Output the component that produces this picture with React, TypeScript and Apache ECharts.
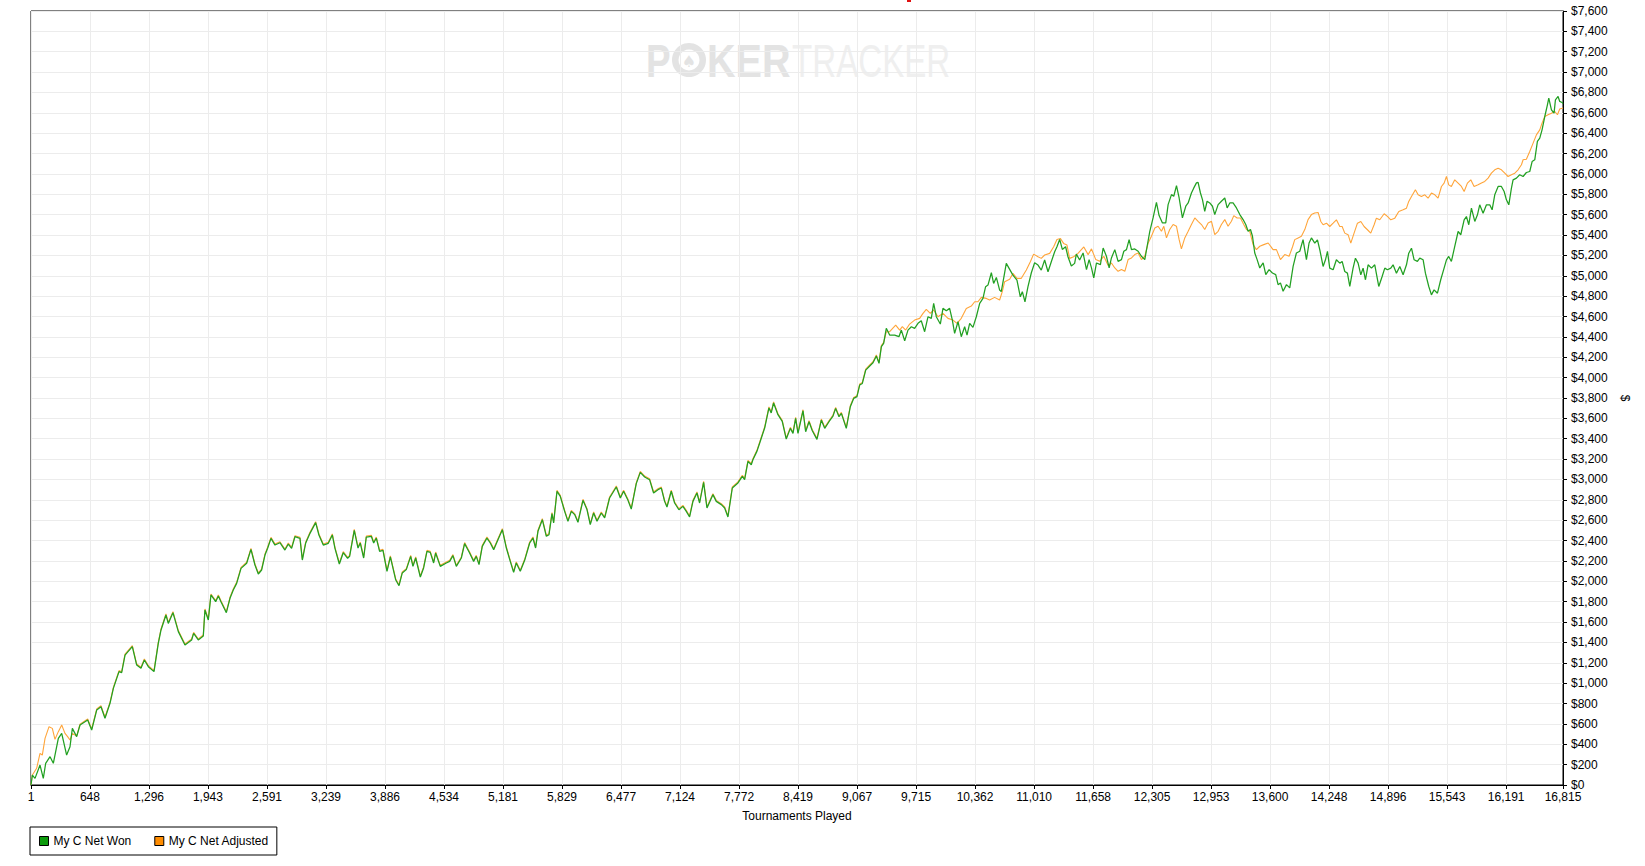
import React, { useEffect, useRef } from "react";
import * as echarts from "echarts";

const xTicks = [1, 648, 1296, 1943, 2591, 3239, 3886, 4534, 5181, 5829, 6477, 7124, 7772, 8419, 9067, 9715, 10362, 11010, 11658, 12305, 12953, 13600, 14248, 14896, 15543, 16191, 16815];

const seriesNames = ["My C Net Won", "My C Net Adjusted"];

const yMin = 0;
const yMax = 7600;
const yStep = 200;

const netWon: [number, number][] = [
  [1,0],[16,98],[45,65],[100,196],[136,65],[162,213],[210,278],[246,213],[301,458],[338,507],[392,294],[429,376],[455,556],[502,475],[539,589],[623,638],[667,540],[722,736],[769,769],[813,655],[868,802],[905,949],[967,1113],[996,1103],[1033,1276],[1113,1358],[1161,1178],[1208,1146],[1245,1227],[1289,1162],[1351,1113],[1398,1391],[1428,1522],[1482,1669],[1508,1587],[1559,1692],[1618,1506],[1691,1375],[1764,1424],[1786,1489],[1837,1424],[1892,1463],[1910,1718],[1947,1620],[1976,1866],[2028,1800],[2057,1856],[2086,1800],[2145,1692],[2185,1833],[2221,1915],[2258,1980],[2306,2127],[2368,2177],[2415,2314],[2459,2160],[2496,2072],[2532,2111],[2569,2258],[2598,2324],[2635,2422],[2679,2356],[2733,2379],[2788,2307],[2825,2366],[2861,2324],[2898,2438],[2953,2422],[2979,2209],[3015,2373],[3063,2471],[3125,2576],[3161,2455],[3209,2356],[3264,2373],[3308,2455],[3337,2324],[3385,2170],[3428,2281],[3476,2226],
  [3498,2245],[3549,2501],[3590,2327],[3615,2376],[3652,2229],[3681,2435],[3736,2442],[3762,2376],[3791,2425],[3827,2294],[3864,2304],[3908,2098],[3945,2239],[4003,2016],[4040,1957],[4076,2082],[4120,2115],[4168,2245],[4193,2147],[4223,2229],[4274,2042],[4310,2131],[4347,2294],[4383,2284],[4420,2180],[4442,2278],[4493,2147],[4559,2180],[4596,2196],[4632,2252],[4669,2147],[4724,2229],[4760,2370],[4815,2278],[4859,2196],[4888,2245],[4918,2164],[4954,2343],[5005,2425],[5042,2376],[5079,2311],[5126,2409],[5174,2507],[5218,2327],[5261,2196],[5298,2088],[5327,2180],[5371,2098],[5419,2206],[5474,2376],[5510,2425],[5539,2327],[5565,2491],[5613,2605],[5657,2442],[5686,2458],[5719,2664],[5737,2573],[5774,2884],[5810,2834],[5858,2687],[5894,2589],[5931,2687],[5968,2655],[6004,2579],[6059,2795],[6103,2704],[6139,2556],[6176,2671],[6213,2589],[6260,2671],[6297,2622],[6351,2818],[6425,2926],[6469,2818],[6505,2884],[6553,2795],[6589,2710],[6644,2959],[6688,3070],[6736,3024],[6790,2998],[6834,2867],[6882,2900],[6919,2916],[6955,2785],[6981,2730],[7028,2884],[7065,2769],[7112,2703],[7156,2736],[7193,2687],[7229,2632],[7266,2785],[7310,2867],[7339,2769],[7383,2972],[7420,2720],[7485,2851],[7522,2785],[7577,2753],[7614,2720],[7650,2632],[7698,2916],[7760,2966],[7808,3031],[7833,2998],[7870,3178],[7906,3145],[7924,3194],[7968,3276],[8005,3375],[8053,3505],[8100,3702],[8125,3653],[8151,3751],[8199,3636],[8246,3571],[8290,3397],
  [8335,3502],[8364,3453],[8393,3600],[8419,3453],[8474,3675],[8503,3469],[8540,3567],[8576,3479],[8627,3394],[8675,3583],[8712,3502],[8759,3567],[8803,3623],[8832,3698],[8869,3616],[8895,3649],[8949,3502],[8993,3714],[9030,3796],[9066,3813],[9096,3927],[9125,3943],[9162,4074],[9198,4107],[9242,4146],[9279,4212],[9308,4140],[9334,4304],[9359,4336],[9388,4484],[9425,4418],[9480,4418],[9527,4402],[9553,4467],[9590,4362],[9626,4467],[9663,4500],[9699,4484],[9736,4533],[9772,4559],[9809,4451],[9846,4598],[9882,4582],[9908,4729],[9937,4598],[9981,4526],[10010,4680],[10047,4657],[10083,4680],[10113,4565],[10138,4434],[10175,4549],[10211,4402],[10248,4500],[10274,4418],[10303,4533],[10339,4493],[10376,4598],[10413,4729],[10449,4778],[10478,4893],[10504,4909],[10541,5030],[10566,4925],[10596,4984],[10632,4860],[10650,4844],[10676,4975],[10705,5122],[10742,5063],[10778,5007],[10822,4958],[10859,4794],[10881,4844],[10910,4745],[10943,4893],[10980,5030],[11016,5128],[11053,5105],[11089,5056],[11126,5155],[11163,5040],[11199,5138],[11236,5236],[11261,5285],[11291,5357],[11320,5259],[11356,5285],[11382,5187],[11419,5096],[11455,5122],[11474,5213],[11510,5155],
  [11548,5224],[11585,5061],[11614,5159],[11640,5077],[11665,4979],[11695,5126],[11738,5110],[11768,5273],[11804,5192],[11834,5077],[11859,5175],[11896,5257],[11932,5142],[11969,5159],[11995,5241],[12024,5257],[12053,5355],[12079,5257],[12115,5264],[12152,5241],[12188,5192],[12225,5159],[12251,5290],[12280,5437],[12316,5568],[12353,5722],[12382,5591],[12419,5519],[12455,5519],[12481,5699],[12518,5797],[12543,5781],[12573,5885],[12602,5764],[12638,5568],[12675,5683],[12701,5715],[12737,5813],[12763,5863],[12792,5912],[12810,5918],[12836,5813],[12858,5748],[12883,5633],[12909,5732],[12938,5715],[12968,5683],[12993,5601],[13030,5699],[13066,5732],[13103,5764],[13129,5666],[13158,5715],[13194,5715],[13231,5666],[13268,5601],[13304,5552],[13333,5503],[13359,5437],[13385,5454],[13407,5388],[13432,5224],[13458,5159],[13487,5077],[13524,5126],[13553,5012],[13589,5061],[13626,5028],[13662,5012],[13688,4913],[13714,4930],[13743,4848],[13780,4913],[13816,4881],[13853,5093],[13889,5224],[13926,5241],[13962,5355],[13999,5159],[14028,5322],[14054,5372],
  [14091,5321],[14120,5353],[14146,5255],[14182,5092],[14208,5157],[14230,5239],[14255,5075],[14292,5059],[14328,5157],[14365,5124],[14391,5141],[14420,5042],[14449,5026],[14475,4895],[14511,5075],[14537,5173],[14566,5124],[14596,5010],[14621,5075],[14647,4961],[14676,5108],[14713,5075],[14749,5108],[14793,4895],[14830,4993],[14859,5075],[14888,5059],[14925,5075],[14950,5108],[14987,5026],[15024,5092],[15060,5010],[15097,5108],[15122,5222],[15152,5271],[15181,5157],[15217,5141],[15243,5173],[15280,5157],[15305,5026],[15342,4895],[15371,4813],[15400,4862],[15437,4829],[15473,4961],[15510,5075],[15536,5157],[15561,5190],[15590,5141],[15627,5288],[15664,5435],[15693,5403],[15730,5550],[15755,5582],[15781,5501],[15810,5664],[15847,5534],[15876,5599],[15901,5697],[15938,5615],[15975,5697],[16011,5697],[16037,5648],[16066,5795],[16103,5877],[16139,5877],[16169,5828],[16194,5746],[16220,5697],[16249,5861],[16267,5942],[16304,5959],[16340,5992],[16377,5975],[16413,6014],[16450,6024],[16476,6122],[16505,6139],[16534,6319],[16560,6352],[16585,6433],[16615,6564],[16644,6679],[16659,6744],[16688,6630],[16717,6597],[16732,6728],[16761,6761],[16779,6712],[16805,6702],[16815,6690]
];

const netAdjusted: [number, number][] = [
  [1,0],[16,98],[63,164],[100,311],[125,294],[155,458],[199,573],[235,556],[264,448],[301,524],[338,589],[374,507],[403,475],[429,442],[455,507],[502,480],[539,598],
  [623,648],[667,550],[722,746],[769,779],[813,665],[868,812],[905,959],[967,1123],[996,1113],[1033,1286],[1113,1368],[1161,1188],[1208,1156],[1245,1237],[1289,1172],[1351,1123],[1398,1401],[1428,1532],[1482,1679],[1508,1597],[1559,1702],[1618,1516],[1691,1385],[1764,1434],[1786,1499],[1837,1434],[1892,1473],[1910,1728],[1947,1630],[1976,1876],[2028,1810],[2057,1866],[2086,1810],[2145,1702],[2185,1843],[2221,1925],[2258,1990],[2306,2137],[2368,2187],[2415,2324],[2459,2170],[2496,2082],[2532,2121],[2569,2268],[2598,2334],[2635,2432],[2679,2366],[2733,2389],[2788,2317],[2825,2376],[2861,2334],[2898,2448],[2953,2432],[2979,2219],[3015,2383],[3063,2481],[3125,2586],[3161,2465],[3209,2366],[3264,2383],[3308,2465],[3337,2334],[3385,2180],[3428,2291],[3476,2236],
  [3498,2255],[3549,2511],[3590,2337],[3615,2386],[3652,2239],[3681,2445],[3736,2452],[3762,2386],[3791,2435],[3827,2304],[3864,2314],[3908,2108],[3945,2249],[4003,2026],[4040,1967],[4076,2092],[4120,2125],[4168,2255],[4193,2157],[4223,2239],[4274,2052],[4310,2141],[4347,2304],[4383,2294],[4420,2190],[4442,2288],[4493,2157],[4559,2190],[4596,2206],[4632,2262],[4669,2157],[4724,2239],[4760,2380],[4815,2288],[4859,2206],[4888,2255],[4918,2174],[4954,2353],[5005,2435],[5042,2386],[5079,2321],[5126,2419],[5174,2517],[5218,2337],[5261,2206],[5298,2098],[5327,2190],[5371,2108],[5419,2216],[5474,2386],[5510,2435],[5539,2337],[5565,2501],[5613,2615],[5657,2452],[5686,2468],[5719,2674],[5737,2583],[5774,2894],[5810,2844],[5858,2697],[5894,2599],[5931,2697],[5968,2665],[6004,2589],[6059,2805],[6103,2714],[6139,2566],[6176,2681],[6213,2599],[6260,2681],[6297,2632],[6351,2828],[6425,2936],[6469,2828],[6505,2894],[6553,2805],[6589,2720],[6644,2969],[6688,3080],[6736,3034],[6790,3008],[6834,2877],[6882,2910],[6919,2926],[6955,2795],[6981,2740],[7028,2894],[7065,2779],[7112,2713],[7156,2746],[7193,2697],[7229,2642],[7266,2795],[7310,2877],[7339,2779],[7383,2982],[7420,2730],[7485,2861],[7522,2795],[7577,2763],[7614,2730],[7650,2642],[7698,2926],[7760,2976],[7808,3041],[7833,3008],[7870,3188],[7906,3155],[7924,3204],[7968,3286],[8005,3385],[8053,3515],[8100,3712],[8125,3663],[8151,3761],[8199,3646],[8246,3581],[8290,3407],
  [8335,3512],[8364,3463],[8393,3610],[8419,3463],[8474,3685],[8503,3479],[8540,3577],[8576,3489],[8627,3404],[8675,3593],[8712,3512],[8759,3577],[8803,3633],[8832,3708],[8869,3626],[8895,3659],[8949,3512],[8993,3724],[9030,3806],[9066,3823],[9096,3937],[9125,3953],[9162,4084],[9198,4117],[9242,4156],[9279,4222],[9308,4150],[9334,4314],[9359,4346],[9388,4450],
  [9425,4451],[9491,4516],[9535,4467],[9564,4500],[9601,4467],[9644,4526],[9699,4565],[9754,4582],[9791,4631],[9827,4670],[9871,4631],[9908,4664],[9955,4598],[10010,4631],[10065,4582],[10120,4565],[10164,4533],[10211,4582],[10266,4680],[10321,4703],[10358,4745],[10394,4745],[10431,4788],[10486,4778],[10522,4762],[10577,4788],[10632,4762],[10661,4844],[10687,4942],[10742,4965],[10778,5023],[10822,4975],[10870,4975],[10925,5056],[10969,5138],[11005,5213],[11053,5187],[11089,5171],[11126,5204],[11181,5220],[11225,5285],[11261,5357],[11298,5367],[11334,5318],[11371,5302],[11400,5171],[11444,5187],[11492,5220],
  [11556,5283],[11603,5208],[11640,5264],[11687,5159],[11731,5142],[11775,5192],[11823,5100],[11859,5126],[11896,5077],[11932,5044],[11969,5061],[12006,5044],[12042,5159],[12079,5175],[12115,5208],[12152,5224],[12188,5159],[12225,5192],[12262,5322],[12298,5388],[12335,5470],[12371,5486],[12408,5437],[12434,5486],[12463,5372],[12499,5454],[12536,5503],[12573,5486],[12602,5355],[12627,5264],[12664,5372],[12701,5437],[12737,5503],[12774,5568],[12810,5535],[12847,5503],[12883,5454],[12920,5519],[12957,5535],[12993,5405],[13030,5437],[13066,5503],[13103,5552],[13139,5486],[13176,5535],[13202,5591],[13238,5568],[13275,5568],[13311,5503],[13341,5454],[13377,5437],[13414,5306],[13450,5257],[13487,5290],[13531,5306],[13579,5322],[13633,5257],[13670,5257],[13714,5159],[13761,5208],[13809,5192],[13846,5283],[13871,5355],[13908,5372],[13944,5388],[13981,5454],[14017,5552],[14054,5601],[14090,5617],
  [14127,5622],[14157,5533],[14182,5501],[14219,5517],[14255,5484],[14292,5517],[14328,5550],[14365,5484],[14391,5484],[14420,5419],[14457,5402],[14486,5321],[14522,5419],[14559,5517],[14596,5533],[14632,5484],[14669,5452],[14705,5419],[14742,5501],[14767,5566],[14804,5550],[14852,5609],[14888,5583],[14925,5550],[14969,5566],[15013,5631],[15060,5648],[15097,5664],[15122,5730],[15152,5779],[15195,5844],[15225,5795],[15261,5779],[15298,5795],[15334,5762],[15371,5812],[15408,5795],[15444,5762],[15481,5877],[15510,5910],[15536,5975],[15561,5893],[15590,5877],[15627,5942],[15664,5910],[15700,5877],[15730,5828],[15766,5910],[15803,5942],[15839,5877],[15883,5893],[15920,5910],[15956,5926],[15993,5959],[16029,6008],[16066,6041],[16103,6057],[16139,6041],[16176,6008],[16212,5975],[16249,5992],[16286,6008],[16322,6041],[16359,6090],[16377,6139],[16413,6145],[16450,6221],[16487,6303],[16523,6384],[16560,6433],[16585,6499],[16615,6564],[16651,6581],[16688,6597],[16725,6613],[16754,6581],[16779,6637],[16805,6646],[16815,6650]
];

const FONT = "'Liberation Sans', Arial, Helvetica, sans-serif";
const GREEN = "#22a022";
const ORANGE = "#ffa53a";

export default function App() {
  const ref = useRef<HTMLDivElement>(null);

  useEffect(() => {
    if (!ref.current) return;
    const chart = echarts.init(ref.current, undefined, { renderer: "svg" });
    chart.setOption({
      animation: false,
      backgroundColor: "#ffffff",
      textStyle: { fontFamily: FONT },
      grid: {
        left: 31,
        top: 11,
        width: 1532,
        height: 774,
        show: true,
        borderColor: "#000000",
        borderWidth: 1,
        containLabel: false,
        outerBoundsMode: "none",
      },
      xAxis: {
        type: "value",
        min: 1,
        max: 16815,
        axisLine: { show: true, onZero: false, lineStyle: { color: "#000000", width: 1 } },
        axisTick: { show: true, length: 4, customValues: xTicks, lineStyle: { color: "#000000" } },
        axisLabel: {
          customValues: xTicks,
          color: "#000000",
          fontSize: 12,
          fontFamily: FONT,
          margin: 6,
          formatter: (v: number) => Math.round(v).toLocaleString("en-US"),
        },
        splitLine: { show: true, lineStyle: { color: "#ececec", width: 1 } },
        name: "Tournaments Played",
        nameLocation: "middle",
        nameGap: 25,
        nameTextStyle: { color: "#000000", fontSize: 12, fontFamily: FONT },
      },
      yAxis: {
        type: "value",
        position: "right",
        min: yMin,
        max: yMax,
        interval: yStep,
        axisLine: { show: true, lineStyle: { color: "#000000", width: 1 } },
        axisTick: { show: true, length: 4, lineStyle: { color: "#000000" } },
        axisLabel: {
          color: "#000000",
          fontSize: 12,
          fontFamily: FONT,
          margin: 8,
          formatter: (v: number) => "$" + v.toLocaleString("en-US"),
        },
        splitLine: { show: true, lineStyle: { color: "#ececec", width: 1 } },
        name: "$",
        nameLocation: "middle",
        nameGap: 50,
        nameRotate: -90,
        nameTextStyle: { color: "#000000", fontSize: 12, fontFamily: FONT },
      },
      legend: {
        left: 30,
        top: 827,
        orient: "horizontal",
        icon: "rect",
        itemWidth: 9,
        itemHeight: 9,
        itemGap: 23,
        padding: [8, 8, 8, 9],
        borderColor: "#000000",
        borderWidth: 1,
        borderRadius: 0,
        selectedMode: false,
        textStyle: { color: "#000000", fontSize: 12, fontFamily: FONT },
        data: [
          { name: seriesNames[0], itemStyle: { color: "#0c9a0c", borderColor: "#000000", borderWidth: 1 } },
          { name: seriesNames[1], itemStyle: { color: "#ff8c00", borderColor: "#000000", borderWidth: 1 } },
        ],
      },
      graphic: [
        {
          type: "group",
          silent: true,
          z: 0,
          children: [
            {
              type: "text",
              x: 646,
              y: 61,
              scaleX: 0.8,
              style: { text: "P", fill: "#e3e3e3", font: "bold 46px 'Liberation Sans', Arial, sans-serif", textAlign: "left", textVerticalAlign: "middle" },
            },
            { type: "circle", shape: { cx: 689, cy: 60, r: 17 }, style: { fill: "#e3e3e3" } },
            { type: "circle", shape: { cx: 689, cy: 60, r: 10.5 }, style: { fill: "#ffffff" } },
            {
              type: "text",
              x: 689,
              y: 61,
              style: { text: "\u2660", fill: "#e3e3e3", font: "16px 'DejaVu Sans', sans-serif", textAlign: "center", textVerticalAlign: "middle" },
            },
            {
              type: "text",
              x: 707,
              y: 61,
              scaleX: 0.86,
              style: { text: "KER", fill: "#e3e3e3", font: "bold 46px 'Liberation Sans', Arial, sans-serif", textAlign: "left", textVerticalAlign: "middle" },
            },
            {
              type: "text",
              x: 792,
              y: 61,
              scaleX: 0.72,
              style: { text: "TRACKER", fill: "#efefef", font: "46px 'Liberation Sans', Arial, sans-serif", textAlign: "left", textVerticalAlign: "middle" },
            },
          ],
        },
        { type: "rect", silent: true, shape: { x: 907, y: 0, width: 4, height: 2 }, style: { fill: "#e01010" } },
      ],
      series: [
        {
          name: seriesNames[1],
          type: "line",
          data: netAdjusted,
          showSymbol: false,
          symbol: "none",
          z: 3,
          lineStyle: { color: ORANGE, width: 1.1 },
          itemStyle: { color: "#ff8c00" },
        },
        {
          name: seriesNames[0],
          type: "line",
          data: netWon,
          showSymbol: false,
          symbol: "none",
          z: 4,
          lineStyle: { color: GREEN, width: 1.25 },
          itemStyle: { color: "#0c9a0c" },
        },
      ],
    });
    return () => chart.dispose();
  }, []);

  return (
    <div
      ref={ref}
      style={{ position: "fixed", left: 0, top: 0, width: 1645, height: 866, background: "#ffffff" }}
    />
  );
}
